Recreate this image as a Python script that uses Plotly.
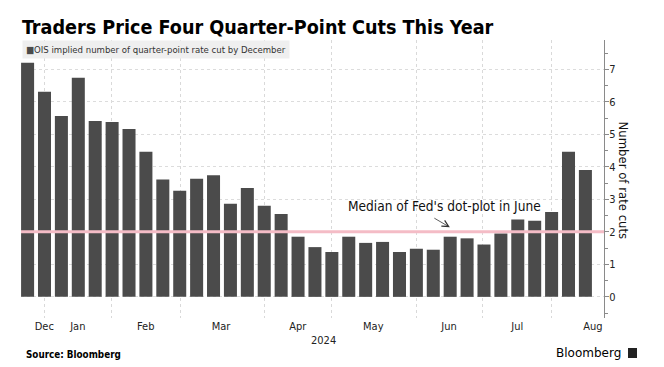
import plotly.graph_objects as go

# ---- data ----
week_index = list(range(34))
cuts_priced = [7.20, 6.31, 5.56, 6.74, 5.41, 5.38, 5.16, 4.46, 3.61, 3.26,
               3.63, 3.74, 2.86, 3.35, 2.80, 2.55, 1.85, 1.53, 1.38, 1.85,
               1.66, 1.69, 1.38, 1.48, 1.45, 1.85, 1.80, 1.61, 1.95, 2.38,
               2.34, 2.61, 4.46, 3.90]
series_name = "OIS implied number of quarter-point rate cut by December"
month_labels = ["Dec", "Jan", "Feb", "Mar", "Apr", "May", "Jun", "Jul", "Aug"]
month_label_pos = [0.99, 2.97, 6.99, 11.44, 15.98, 20.45, 24.93, 28.97, 33.44]
month_grid_pos = [0.985, 4.98, 9.02, 14.0, 17.99, 23.02, 26.94, 31.0]
year_label = "2024"
year_label_pos = 17.53
y_ticks = [0, 1, 2, 3, 4, 5, 6, 7]
fed_median = 2
fed_note = "Median of Fed's dot-plot in June"
fed_note_week = 24.98

FONT = "DejaVu Sans Condensed, DejaVu Sans, sans-serif"
BAR = "#4b4b4b"

fig = go.Figure()
fig.add_trace(go.Bar(x=week_index, y=cuts_priced, name=series_name,
                     marker=dict(color=BAR, line=dict(width=0)),
                     showlegend=False))

fig.update_layout(
    width=664, height=367,
    margin=dict(l=21, r=60, t=40, b=49),
    paper_bgcolor="white", plot_bgcolor="white",
    bargap=0.23,
    font=dict(family=FONT, color="#222", size=11),
    title=dict(text="Traders Price Four Quarter-Point Cuts This Year",
               font=dict(family=FONT, size=19.6, color="#000", weight="bold"),
               x=22 / 664, xref="container", xanchor="left",
               y=1 - 27 / 367, yref="container", yanchor="middle"),
    xaxis=dict(range=[-0.39, 34.1], tickmode="array", tickvals=month_label_pos,
               ticktext=month_labels, showgrid=False, zeroline=False,
               ticks="", showline=False, tickfont=dict(size=11, color="#222"),
               minor=dict(tickmode="array", tickvals=month_grid_pos, showgrid=True,
                          gridcolor="#d9d9d9", griddash="dot", gridwidth=1, ticks="")),
    yaxis=dict(side="right", range=[-0.65, 7.9], tickmode="array", tickvals=y_ticks,
               showgrid=True, gridcolor="#dcdcdc", griddash="dot", gridwidth=1,
               zeroline=False, showline=True, linecolor="#8a8a8a", linewidth=1,
               ticks="outside", ticklen=4, tickcolor="#8a8a8a",
               ticklabelstandoff=-2,
               tickfont=dict(size=11, color="#222"),
               minor=dict(dtick=0.5, tick0=0.5, ticks="outside", ticklen=3,
                          tickcolor="#8a8a8a", showgrid=False)),
)

# Fed median reference line
fig.add_shape(type="line", xref="paper", x0=0, x1=1, yref="y", y0=fed_median, y1=fed_median,
              line=dict(color="#f4bcc6", width=3), layer="above")

# legend box
fig.add_annotation(xref="paper", yref="paper", x=0.002, y=1, xanchor="left", yanchor="top",
                   text=f"<span style='color:{BAR}'>■</span>{series_name}",
                   showarrow=False, bgcolor="#efefef", borderpad=3,
                   font=dict(family=FONT, size=9.5, color="#333"))

# annotation
fig.add_annotation(x=fed_note_week, y=fed_median + 0.14, xref="x", yref="y", text="",
                   showarrow=True, ax=-17, ay=-10, arrowhead=5, arrowsize=1.6,
                   arrowwidth=0.8, arrowcolor="#333")
fig.add_annotation(x=fed_note_week - 0.29, y=fed_median + 0.79, xref="x", yref="y",
                   text=fed_note, showarrow=False,
                   font=dict(family=FONT, size=13.6, color="#111"))

# year label
fig.add_annotation(x=year_label_pos, y=-0.08, xref="x", yref="paper", text=year_label,
                   showarrow=False, yanchor="middle", font=dict(size=11, color="#222"))

# y-axis title
fig.add_annotation(xref="paper", yref="paper", x=(633 - 21) / 583, y=(318 - 180) / 278,
                   text="Number of rate cuts", textangle=90, showarrow=False,
                   font=dict(family=FONT, size=13, color="#111"))

# footer
fig.add_annotation(xref="paper", yref="paper", x=(24 - 21) / 583, y=(318 - 354) / 278,
                   xanchor="left", yanchor="middle", text="Source: Bloomberg",
                   showarrow=False, font=dict(family=FONT, size=9.8, color="#000", weight="bold"))
fig.add_annotation(xref="paper", yref="paper", x=(623 - 21) / 583, y=(318 - 353) / 278,
                   xanchor="right", yanchor="middle", text="Bloomberg",
                   showarrow=False, font=dict(family="DejaVu Sans, sans-serif", size=12, color="#000"))
fig.add_shape(type="rect", xref="paper", yref="paper",
              x0=(628 - 21) / 583, x1=(637 - 21) / 583,
              y0=(318 - 358) / 278, y1=(318 - 348) / 278,
              fillcolor="#222", line=dict(width=0))

fig.write_html("out.html", config={"displayModeBar": False},
               post_script="document.body.style.margin='0';document.body.style.padding='0';")
